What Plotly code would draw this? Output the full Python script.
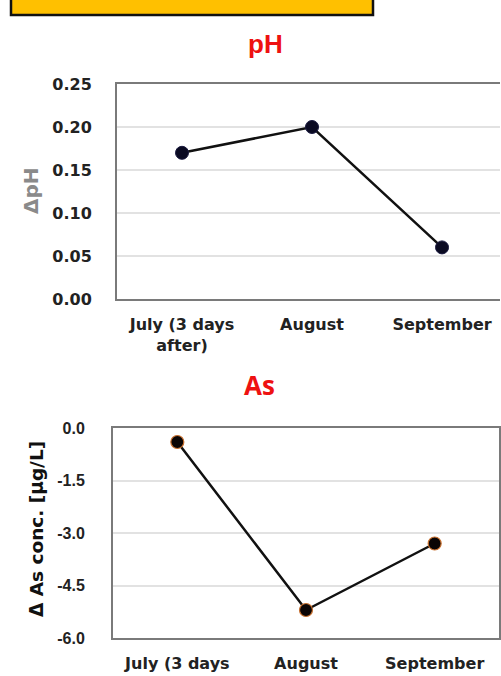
import plotly.graph_objects as go

# ---- data ----
months_ph = ["July (3 days<br>after)", "August", "September"]
months_as = ["July (3 days", "August", "September"]
delta_ph = [0.17, 0.20, 0.06]
delta_as = [-0.4, -5.2, -3.3]
ph_ticks = [0.00, 0.05, 0.10, 0.15, 0.20, 0.25]
ph_ticktext = ["0.00", "0.05", "0.10", "0.15", "0.20", "0.25"]
as_ticks = [-6.0, -4.5, -3.0, -1.5, 0.0]
as_ticktext = ["-6.0", "-4.5", "-3.0", "-1.5", "0.0"]

W, H = 501, 676
def px_x(v): return v / W
def px_y(v): return 1 - v / H

fig = go.Figure()

fig.add_trace(go.Scatter(
    x=months_ph, y=delta_ph, xaxis="x", yaxis="y", mode="lines+markers",
    line=dict(color="#111111", width=2.5),
    marker=dict(size=13, color="#0a0a22", line=dict(color="#1a1a40", width=1)),
    showlegend=False, hoverinfo="skip"))

fig.add_trace(go.Scatter(
    x=months_as, y=delta_as, xaxis="x2", yaxis="y2", mode="lines+markers",
    line=dict(color="#111111", width=2.5),
    marker=dict(size=13, color="#0a0505", line=dict(color="#c8702f", width=1.2)),
    showlegend=False, hoverinfo="skip"))

tick_dv = dict(family="DejaVu Sans", size=16, color="#222222", weight="bold")
tick_ls = dict(family="Liberation Sans, Arial", size=16, color="#222222", weight="bold")
border = "#7a7a7a"
grid = "#e2e2e2"

fig.update_layout(
    template="none",
    width=W, height=H, autosize=False,
    margin=dict(l=0, r=0, t=0, b=0, pad=0, autoexpand=False),
    paper_bgcolor="white", plot_bgcolor="white",
    xaxis=dict(domain=[px_x(117), px_x(500)], anchor="y", type="category",
               range=[-0.5, 2.446], showgrid=False, showline=True, mirror=True,
               linecolor=border, linewidth=2, ticks="", tickfont=tick_dv,
               ticklabelstandoff=10, automargin=False, fixedrange=True),
    yaxis=dict(domain=[px_y(299), px_y(84)], anchor="x", range=[0, 0.25],
               tickvals=ph_ticks, ticktext=ph_ticktext, showgrid=True,
               gridcolor=grid, gridwidth=1.5, showline=True, linecolor=border,
               linewidth=2, ticks="", tickfont=tick_dv, ticklabelstandoff=20,
               zeroline=False, automargin=False, fixedrange=True),
    xaxis2=dict(domain=[px_x(113), px_x(499)], anchor="y2", type="category",
                range=[-0.5, 2.5], showgrid=False, showline=True, mirror=True,
                linecolor=border, linewidth=2, ticks="", tickfont=tick_dv,
                ticklabelstandoff=10, automargin=False, fixedrange=True),
    yaxis2=dict(domain=[px_y(638), px_y(428)], anchor="x2", range=[-6, 0],
                tickvals=as_ticks, ticktext=as_ticktext, showgrid=True,
                gridcolor=grid, gridwidth=1.5, showline=True, mirror=True,
                linecolor=border, linewidth=2, ticks="", tickfont=tick_ls,
                ticklabelstandoff=23, zeroline=False, automargin=False, fixedrange=True),
    shapes=[dict(type="rect", xref="paper", yref="paper",
                 x0=px_x(11), x1=px_x(373), y0=px_y(15), y1=1.05,
                 fillcolor="#FFC000", line=dict(color="#111111", width=2.5),
                 layer="above")],
    annotations=[
        dict(text="pH", x=px_x(265), y=px_y(44), xref="paper", yref="paper",
             showarrow=False, xanchor="center", yanchor="middle",
             font=dict(family="Liberation Sans, Arial", size=26, color="#ee1111", weight="bold")),
        dict(text="As", x=px_x(259), y=px_y(385), xref="paper", yref="paper",
             showarrow=False, xanchor="center", yanchor="middle",
             font=dict(family="Open Sans", size=26, color="#ee1111", weight="bold")),
        dict(text="ΔpH", x=px_x(31), y=px_y(191), xref="paper", yref="paper",
             showarrow=False, xanchor="center", yanchor="middle", textangle=-90,
             font=dict(family="DejaVu Sans", size=20, color="#8a8a8a", weight="bold")),
        dict(text="Δ As conc. [μg/L]", x=px_x(36), y=px_y(529), xref="paper", yref="paper",
             showarrow=False, xanchor="center", yanchor="middle", textangle=-90,
             font=dict(family="DejaVu Sans", size=18.5, color="#111111", weight="bold")),
    ],
)

fig.write_html(
    "out.html",
    config={"responsive": False, "displayModeBar": False},
    post_script="document.body.style.margin='0';document.body.style.overflow='hidden';",
)
